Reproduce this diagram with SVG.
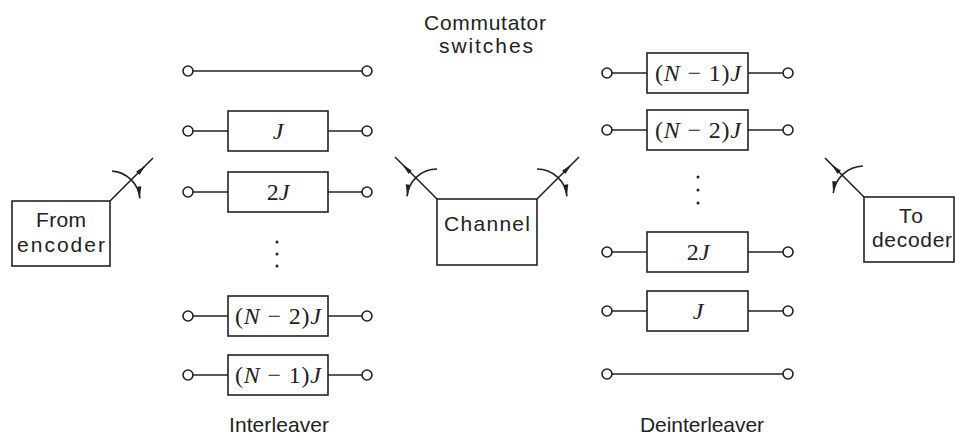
<svg xmlns="http://www.w3.org/2000/svg" width="956" height="441" viewBox="0 0 956 441">
<style>
.ln{stroke:#222;stroke-width:1.6;fill:none}
.bx{stroke:#222;stroke-width:1.6;fill:#fff}
.term{stroke:#222;stroke-width:1.6;fill:#fff}
.t{font-family:"Liberation Sans",Arial,sans-serif;font-size:21px;fill:#222;text-anchor:middle}
.m{font-family:"Liberation Serif","Times New Roman",serif;font-size:24px;fill:#222;text-anchor:middle}
.i{font-style:italic}
.dot{fill:#222}
</style>
<defs>
<marker id="ah" viewBox="0 0 12 6" refX="12" refY="3" markerWidth="12" markerHeight="6" markerUnits="userSpaceOnUse" orient="auto">
<path d="M0,0.6 L12,3 L0,5.4 Z" fill="#222"/>
</marker>
</defs>
<rect width="956" height="441" fill="#fff"/>

<g id="title">
<text class="t" x="485" y="30" textLength="122" lengthAdjust="spacing">Commutator</text>
<text class="t" x="486" y="53" textLength="94" lengthAdjust="spacing">switches</text>
</g>

<g id="from-encoder">
<rect class="bx" x="12" y="201" width="98" height="65"/>
<text class="t" x="61" y="227" textLength="50" lengthAdjust="spacing">From</text>
<text class="t" x="61" y="252" textLength="88" lengthAdjust="spacing">encoder</text>
</g>

<g id="channel">
<rect class="bx" x="437" y="199" width="100" height="66"/>
<text class="t" x="487" y="231" textLength="86" lengthAdjust="spacing">Channel</text>
</g>

<g id="to-decoder">
<rect class="bx" x="864" y="197" width="90" height="65"/>
<text class="t" x="911" y="223" textLength="24" lengthAdjust="spacing">To</text>
<text class="t" x="912" y="247" textLength="80" lengthAdjust="spacing">decoder</text>
</g>

<g id="interleaver">
<g id="il-row0">
<line class="ln" x1="193" y1="71" x2="362" y2="71"/>
<circle class="term" cx="188" cy="71" r="5"/><circle class="term" cx="367" cy="71" r="5"/>
</g>
<g id="il-row1">
<line class="ln" x1="193" y1="131" x2="228" y2="131"/><line class="ln" x1="328" y1="131" x2="362" y2="131"/>
<circle class="term" cx="188" cy="131" r="5"/><circle class="term" cx="367" cy="131" r="5"/>
<rect class="bx" x="228" y="111" width="100" height="40"/>
<text class="m" x="278" y="139"><tspan class="i">J</tspan></text>
</g>
<g id="il-row2">
<line class="ln" x1="193" y1="192" x2="228" y2="192"/><line class="ln" x1="328" y1="192" x2="362" y2="192"/>
<circle class="term" cx="188" cy="192" r="5"/><circle class="term" cx="367" cy="192" r="5"/>
<rect class="bx" x="228" y="172" width="100" height="40"/>
<text class="m" x="278" y="200">2<tspan class="i">J</tspan></text>
</g>
<g id="il-dots">
<circle class="dot" cx="277" cy="242" r="1.5"/><circle class="dot" cx="277" cy="254" r="1.5"/><circle class="dot" cx="277" cy="266" r="1.5"/>
</g>
<g id="il-row3">
<line class="ln" x1="193" y1="316" x2="228" y2="316"/><line class="ln" x1="328" y1="316" x2="362" y2="316"/>
<circle class="term" cx="188" cy="316" r="5"/><circle class="term" cx="367" cy="316" r="5"/>
<rect class="bx" x="228" y="296" width="100" height="40"/>
<text class="m" x="278" y="324" textLength="86" lengthAdjust="spacing">(<tspan class="i">N</tspan> − 2)<tspan class="i">J</tspan></text>
</g>
<g id="il-row4">
<line class="ln" x1="193" y1="375" x2="228" y2="375"/><line class="ln" x1="328" y1="375" x2="362" y2="375"/>
<circle class="term" cx="188" cy="375" r="5"/><circle class="term" cx="367" cy="375" r="5"/>
<rect class="bx" x="228" y="355" width="100" height="40"/>
<text class="m" x="278" y="383" textLength="86" lengthAdjust="spacing">(<tspan class="i">N</tspan> − 1)<tspan class="i">J</tspan></text>
</g>
<text class="t" x="279" y="432" textLength="100" lengthAdjust="spacing">Interleaver</text>
</g>

<g id="deinterleaver">
<g id="dl-row0">
<line class="ln" x1="612" y1="73" x2="647" y2="73"/><line class="ln" x1="748" y1="73" x2="783" y2="73"/>
<circle class="term" cx="607" cy="73" r="5"/><circle class="term" cx="788" cy="73" r="5"/>
<rect class="bx" x="647" y="53" width="101" height="40"/>
<text class="m" x="698" y="81" textLength="86" lengthAdjust="spacing">(<tspan class="i">N</tspan> − 1)<tspan class="i">J</tspan></text>
</g>
<g id="dl-row1">
<line class="ln" x1="612" y1="130" x2="647" y2="130"/><line class="ln" x1="748" y1="130" x2="783" y2="130"/>
<circle class="term" cx="607" cy="130" r="5"/><circle class="term" cx="788" cy="130" r="5"/>
<rect class="bx" x="647" y="110" width="101" height="40"/>
<text class="m" x="698" y="138" textLength="86" lengthAdjust="spacing">(<tspan class="i">N</tspan> − 2)<tspan class="i">J</tspan></text>
</g>
<g id="dl-dots">
<circle class="dot" cx="698" cy="177" r="1.5"/><circle class="dot" cx="698" cy="190" r="1.5"/><circle class="dot" cx="698" cy="203" r="1.5"/>
</g>
<g id="dl-row2">
<line class="ln" x1="612" y1="252" x2="647" y2="252"/><line class="ln" x1="748" y1="252" x2="783" y2="252"/>
<circle class="term" cx="607" cy="252" r="5"/><circle class="term" cx="788" cy="252" r="5"/>
<rect class="bx" x="647" y="232" width="101" height="40"/>
<text class="m" x="698" y="260">2<tspan class="i">J</tspan></text>
</g>
<g id="dl-row3">
<line class="ln" x1="612" y1="311" x2="647" y2="311"/><line class="ln" x1="748" y1="311" x2="783" y2="311"/>
<circle class="term" cx="607" cy="311" r="5"/><circle class="term" cx="788" cy="311" r="5"/>
<rect class="bx" x="647" y="291" width="101" height="40"/>
<text class="m" x="698" y="319"><tspan class="i">J</tspan></text>
</g>
<g id="dl-row4">
<line class="ln" x1="612" y1="374" x2="783" y2="374"/>
<circle class="term" cx="607" cy="374" r="5"/><circle class="term" cx="788" cy="374" r="5"/>
</g>
<text class="t" x="702" y="432" textLength="124" lengthAdjust="spacing">Deinterleaver</text>
</g>

<g id="connectors">
<polyline class="ln" points="110,201 146,165 153,158" marker-mid="url(#ah)"/>
<path class="ln" d="M112.1,171.1 A30,30 0 0 1 139.9,198.4" marker-end="url(#ah)"/>
<polyline class="ln" points="437,199 402,164 395,157" marker-mid="url(#ah)"/>
<path class="ln" d="M437,169 A30,30 0 0 0 407.1,196.4" marker-end="url(#ah)"/>
<polyline class="ln" points="537,199 572,164 579,157" marker-mid="url(#ah)"/>
<path class="ln" d="M537,169 A30,30 0 0 1 566.9,196.4" marker-end="url(#ah)"/>
<polyline class="ln" points="864,197 831,164 825,158" marker-mid="url(#ah)"/>
<path class="ln" d="M862.9,166 A31,31 0 0 0 833.2,193.2" marker-end="url(#ah)"/>
</g>
</svg>
